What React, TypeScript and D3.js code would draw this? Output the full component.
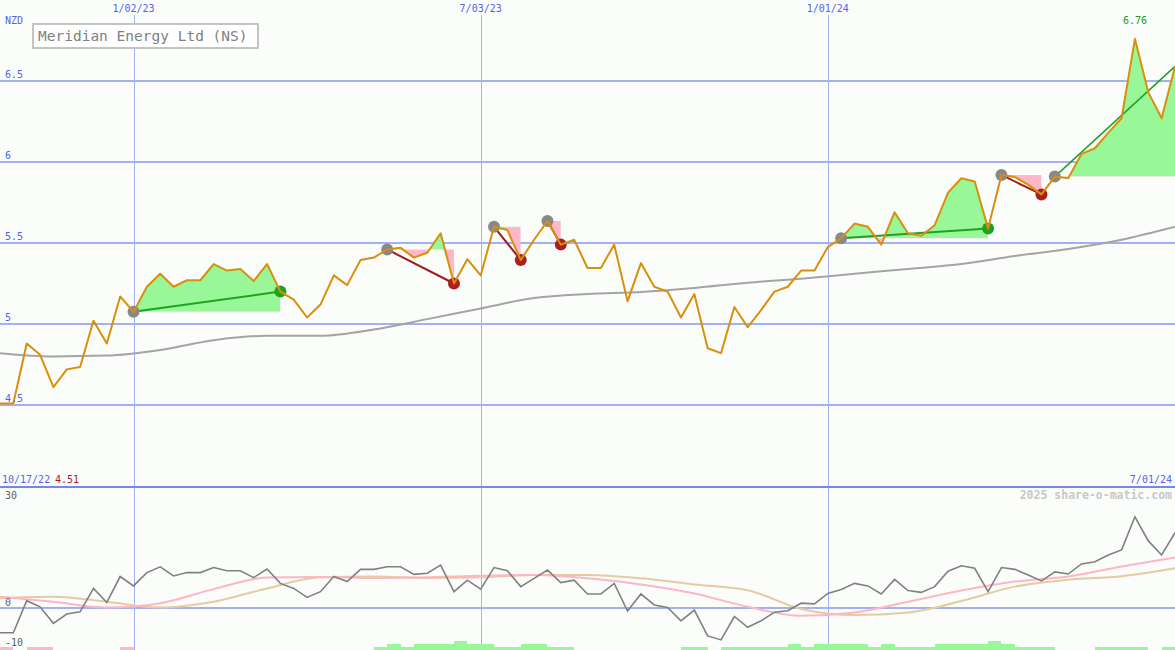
import React from 'react';
import * as d3 from 'd3';

const W = 1175;
const H = 650;

// weekly closes from 10/24/22 to 7/01/24
const startDate = new Date(2022, 9, 24);
const endDate = new Date(2024, 6, 1);

const price = [
  4.51, 4.51, 4.88, 4.81, 4.61, 4.72, 4.735, 5.02, 4.88, 5.17,
  5.075, 5.23, 5.31, 5.23, 5.27, 5.27, 5.37, 5.33, 5.34, 5.265,
  5.37, 5.2, 5.15, 5.04, 5.12, 5.3, 5.24, 5.395, 5.41, 5.46,
  5.47, 5.41, 5.44, 5.56, 5.25, 5.4, 5.3, 5.6, 5.58, 5.395,
  5.52, 5.636, 5.49, 5.52, 5.346, 5.346, 5.49, 5.14, 5.376, 5.23,
  5.2, 5.04, 5.185, 4.85, 4.82, 5.105, 4.98, 5.086, 5.2, 5.23,
  5.33, 5.33, 5.475, 5.53, 5.62, 5.6, 5.49, 5.69, 5.56, 5.545,
  5.61, 5.81, 5.9, 5.88, 5.59, 5.92, 5.907, 5.86, 5.8, 5.91,
  5.9, 6.05, 6.085, 6.18, 6.27, 6.76, 6.43, 6.27, 6.59,
];

// smoothed series, one value every 4 weeks
const smoothStep = 4;
const movingAvg = [
  4.82, 4.8, 4.805, 4.84, 4.9, 4.927, 4.927, 4.966, 5.03, 5.096,
  5.16, 5.185, 5.197, 5.222, 5.255, 5.28, 5.31, 5.34, 5.37, 5.42,
  5.463, 5.52, 5.6,
];

const osc = [
  -7.0, -7.0, 1.9, 0.2, -4.4, -1.8, -1.2, 5.3, 1.4, 8.6,
  6.0, 9.7, 11.3, 8.75, 9.7, 9.7, 11.1, 10.2, 10.2, 8.3,
  10.7, 6.7, 5.3, 2.8, 4.4, 8.6, 7.2, 10.6, 10.6, 11.3,
  11.3, 9.2, 9.5, 11.8, 4.4, 7.6, 5.1, 11.1, 10.2, 5.8,
  8.1, 10.4, 6.9, 7.6, 3.75, 3.75, 6.7, -1.0, 3.75, 0.7,
  0, -3.7, -0.7, -7.9, -9.0, -2.5, -5.5, -3.7, -1.3, -0.9,
  1.2, 1.0, 3.9, 5.0, 6.7, 6.0, 3.75, 7.8, 4.7, 4.2,
  5.8, 10.1, 11.6, 10.9, 4.4, 11.1, 10.6, 9.0, 7.4, 9.9,
  9.3, 12.1, 12.7, 14.6, 16.0, 25.2, 18.5, 14.6, 20.8,
];
const oscFast = [
  3.0, 1.6, 0.0, 1.2, 5.1, 8.3, 8.5, 8.2, 8.4, 8.8,
  9.0, 8.1, 6.4, 3.9, 0.2, -2.3, -1.4, 1.6, 4.7, 7.2,
  8.6, 11.4, 13.9,
];
const oscSlow = [
  2.6, 3.0, 1.6, 0.0, 1.6, 5.3, 8.4, 8.6, 8.2, 8.4,
  9.0, 9.0, 8.1, 6.4, 4.8, -0.4, -2.1, -1.4, 1.8, 5.8,
  7.7, 8.7, 10.9,
];
const hist = [
  -1, 0, -1, -1, 0, 0, 0, 0, 0, -1,
  0, 0, 0, 0, 0, 0, 0, 0, 0, 0,
  0, 0, 0, 0, 0, 0, 0, 0, 1, 2,
  1, 2, 2, 2, 3, 2, 2, 1, 1, 2,
  2, 1, 1, 0, 0, 0, 0, 0, 0, 0,
  0, 1, 1, 0, 1, 1, 1, 1, 1, 2,
  1, 2, 2, 2, 2, 1, 2, 1, 1, 1,
  2, 2, 2, 2, 3, 2, 1, 1, 1, 0,
  0, 0, 1, 1, 1, 1, 0, 1, 0,
];

// trade signals (week index); last one still open
const entries = [10, 29, 37, 41, 63, 75, 79];
const exits = [21, 34, 39, 42, 74, 78, 88];
const openTrade = [false, false, false, false, false, false, true];

const priceTicks = [4.5, 5, 5.5, 6, 6.5];
const oscTicks = [30, 0, -10];
const dateTicks = [new Date(2023, 0, 2), new Date(2023, 6, 3), new Date(2024, 0, 1)];
const dateLabels = ['1/02/23', '7/03/23', '1/01/24'];
const title = 'Meridian Energy Ltd (NS)';

const MONO = '"DejaVu Sans Mono", monospace';
const BLUE = '#5363ee';
const GRID = '#a3b1f2';

const dates = price.map((_, i) => d3.timeDay.offset(startDate, i * 7));

const App: React.FC = () => {
  const x = d3.scaleTime().domain([startDate, endDate]).range([0, W]);
  const y = d3.scaleLinear().domain([4, 7]).range([486, 0]);
  const yo = d3.scaleLinear().domain([-10, 30]).range([643.5, 499.5]);
  const xi = (i: number) => x(dates[i]);

  const priceLine = d3.line<number>().x((_, i) => xi(i)).y(d => y(d));
  const maLine = d3.line<number>().x((_, k) => xi(k * smoothStep)).y(d => y(d)).curve(d3.curveMonotoneX);
  const oscLine = d3.line<number>().x((_, i) => xi(i)).y(d => yo(d));
  const smoothLine = d3.line<number>().x((_, k) => xi(k * smoothStep)).y(d => yo(d)).curve(d3.curveMonotoneX);

  const maxI = d3.maxIndex(price);

  return (
    <svg width={W} height={H} style={{ display: 'block', background: '#fbfdfb' }}>
      <style>{`body{margin:0}`}</style>
      <defs>
        {entries.map((e, k) => {
          const x0 = xi(e);
          const x1 = xi(exits[k]);
          const yb = y(price[e]);
          return (
            <React.Fragment key={k}>
              <clipPath id={`up${k}`}>
                <rect x={x0} y={0} width={x1 - x0} height={yb} />
              </clipPath>
              <clipPath id={`dn${k}`}>
                <rect x={x0} y={yb} width={x1 - x0} height={487 - yb} />
              </clipPath>
            </React.Fragment>
          );
        })}
      </defs>

      {/* grid */}
      {priceTicks.map(t => (
        <line key={t} x1={0} x2={W} y1={y(t)} y2={y(t)} stroke={GRID} strokeWidth={2} shapeRendering="crispEdges" />
      ))}
      {dateTicks.map((d, k) => (
        <line key={k} x1={Math.round(x(d)) + 0.5} x2={Math.round(x(d)) + 0.5} y1={15} y2={H} stroke={GRID} strokeWidth={1} shapeRendering="crispEdges" />
      ))}
      <line x1={0} x2={W} y1={yo(0)} y2={yo(0)} stroke={GRID} strokeWidth={2} shapeRendering="crispEdges" />
      <line x1={0} x2={W} y1={487} y2={487} stroke="#7686ea" strokeWidth={2} shapeRendering="crispEdges" />

      {/* trade shading */}
      {entries.map((e, k) => {
        const idx = d3.range(e, exits[k] + 1);
        const yb = y(price[e]);
        const area = d3.area<number>().x(i => xi(i)).y0(yb).y1(i => y(price[i]));
        const d = area(idx) || '';
        return (
          <g key={k}>
            <path d={d} fill="#98f898" clipPath={`url(#up${k})`} />
            <path d={d} fill="#ffb6c8" clipPath={`url(#dn${k})`} />
          </g>
        );
      })}

      {/* moving average */}
      <path d={maLine(movingAvg) || ''} fill="none" stroke="#a4a4a4" strokeWidth={2} />

      {/* trade lines */}
      {entries.map((e, k) => {
        const ex = exits[k];
        const up = price[ex] >= price[e];
        return (
          <line key={k} x1={xi(e)} y1={y(price[e])} x2={xi(ex)} y2={y(price[ex])}
            stroke={up ? '#22a022' : '#9c1c1c'} strokeWidth={openTrade[k] ? 1.5 : 2} />
        );
      })}

      {/* trade markers */}
      {entries.map((e, k) => (
        <circle key={`e${k}`} cx={xi(e)} cy={y(price[e])} r={6} fill="#888888" />
      ))}
      {exits.map((ex, k) => openTrade[k] ? null : (
        <circle key={`x${k}`} cx={xi(ex)} cy={y(price[ex])} r={6}
          fill={price[ex] >= price[entries[k]] ? '#22a022' : '#aa2020'} />
      ))}

      {/* price */}
      <path d={priceLine(price) || ''} fill="none" stroke="#d8900c" strokeWidth={2} strokeLinejoin="round" />

      {/* oscillator panel */}
      {hist.map((v, i) => v === 0 ? null : (
        <rect key={i} x={xi(i)} width={xi(i + 1) - xi(i)} y={650 - Math.abs(v) * 3.1} height={Math.abs(v) * 3.1}
          fill={v > 0 ? '#98f898' : '#ffb6c8'} shapeRendering="crispEdges" />
      ))}
      <path d={smoothLine(oscSlow) || ''} fill="none" stroke="#e4cca0" strokeWidth={2} />
      <path d={smoothLine(oscFast) || ''} fill="none" stroke="#ffb4c8" strokeWidth={2} />
      <path d={oscLine(osc) || ''} fill="none" stroke="#808080" strokeWidth={1.6} />

      {/* labels */}
      <g fontFamily={MONO} fontSize={10}>
        <text x={5} y={24} fill={BLUE}>NZD</text>
        {priceTicks.map(t => (
          <text key={t} x={5} y={y(t) - 3} fill={BLUE}>{String(t)}</text>
        ))}
        {dateTicks.map((d, k) => (
          <text key={k} x={x(d)} y={12} textAnchor="middle" fill={BLUE}>{dateLabels[k]}</text>
        ))}
        <text x={2} y={483} fill={BLUE}>10/17/22</text>
        <text x={55} y={483} fill="#aa1818">{price[0].toFixed(2)}</text>
        <text x={1172} y={483} textAnchor="end" fill={BLUE}>7/01/24</text>
        <text x={xi(maxI)} y={24} textAnchor="middle" fill="#229922">{price[maxI].toFixed(2)}</text>
        {oscTicks.map(t => (
          <text key={t} x={5} y={t === 30 ? 499 : t === -10 ? 646 : yo(t) - 2} fill="#606060">{String(t)}</text>
        ))}
      </g>
      <text x={1172} y={499} textAnchor="end" fontFamily={MONO} fontSize={11.5} fontWeight="bold" fill="#c8c8c8">
        2025 share-o-matic.com
      </text>

      {/* title box */}
      <rect x={33} y={24} width={225} height={24} fill="#ffffff" stroke="#c4c4c4" strokeWidth={2} />
      <text x={38} y={41} fontFamily={MONO} fontSize={14.5} fill="#808080">{title}</text>
    </svg>
  );
};

export default App;
